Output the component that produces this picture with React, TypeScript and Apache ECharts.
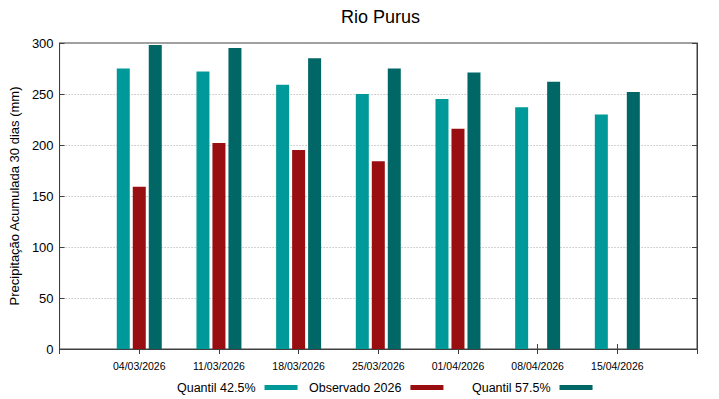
import React, { useEffect, useRef } from "react";
import * as echarts from "echarts";

const categories = ["04/03/2026", "11/03/2026", "18/03/2026", "25/03/2026", "01/04/2026", "08/04/2026", "15/04/2026"];
const quantil425 = [275, 272, 259, 250, 245, 237, 230];
const observado2026: (number | null)[] = [159, 202, 195, 184, 216, null, null];
const quantil575 = [298, 295, 285, 275, 271, 262, 252];
const yTicks = { min: 0, max: 300, interval: 50 };

const FONT = "Liberation Sans, Arial, sans-serif";

export default function App() {
  const ref = useRef<HTMLDivElement>(null);
  useEffect(() => {
    if (!ref.current) return;
    const chart = echarts.init(ref.current, null, { renderer: "svg" });
    const axisCats = ["", ...categories, " "];
    const pad = (a: (number | null)[]) => [null, ...a, null];
    const axisColor = "#404040";
    const legendBase = {
      top: 381,
      padding: 0,
      align: "right" as const,
      itemWidth: 33,
      itemHeight: 5,
      icon: "rect",
      textStyle: { fontSize: 12.5, color: "#000", fontFamily: FONT, padding: [0, 4, 0, 0] },
    };
    chart.setOption({
      animation: false,
      textStyle: { fontFamily: FONT },
      title: {
        text: "Rio Purus",
        left: 336,
        top: 3,
        textStyle: { fontSize: 18, fontWeight: "normal", color: "#000", fontFamily: FONT },
      },
      legend: [
        { ...legendBase, left: 177, data: ["Quantil 42.5%"] },
        { ...legendBase, left: 309, data: ["Observado 2026"] },
        { ...legendBase, left: 472, data: ["Quantil 57.5%"] },
      ],
      grid: {
        left: 58,
        right: 22,
        top: 43,
        bottom: 50,
        show: true,
        borderColor: axisColor,
        borderWidth: 1,
        containLabel: false,
      },
      xAxis: [
        {
          type: "category",
          data: axisCats,
          boundaryGap: false,
          axisLine: { show: true, lineStyle: { color: axisColor } },
          axisTick: { show: true, inside: true, length: 5, lineStyle: { color: axisColor } },
          axisLabel: { fontSize: 10.5, color: "#000", margin: 11, fontFamily: FONT, interval: 0 },
          splitLine: { show: false },
        },
        {
          type: "category",
          data: axisCats,
          boundaryGap: false,
          position: "top",
          axisLine: { show: true, lineStyle: { color: axisColor } },
          axisTick: { show: true, inside: true, length: 5, lineStyle: { color: axisColor } },
          axisLabel: { show: false },
          splitLine: { show: false },
        },
      ],
      yAxis: [
        {
          type: "value",
          ...yTicks,
          name: "Precipitação Acumulada 30 dias (mm)",
          nameLocation: "middle",
          nameGap: 33,
          nameTextStyle: { fontSize: 13, color: "#000", fontFamily: FONT },
          axisLine: { show: true, lineStyle: { color: axisColor } },
          axisTick: { show: true, inside: true, length: 5, lineStyle: { color: axisColor } },
          axisLabel: { fontSize: 13, color: "#000", margin: 6, fontFamily: FONT },
          splitLine: { show: true, lineStyle: { color: "#a8a8a8", type: [1, 2], width: 1 } },
        },
        {
          type: "value",
          ...yTicks,
          position: "right",
          axisLine: { show: true, lineStyle: { color: axisColor } },
          axisTick: { show: true, inside: true, length: 5, lineStyle: { color: axisColor } },
          axisLabel: { show: false },
          splitLine: { show: false },
        },
      ],
      series: [
        {
          name: "Quantil 42.5%",
          type: "bar",
          data: pad(quantil425),
          barWidth: 13,
          barGap: "23%",
          itemStyle: { color: "#009999" },
        },
        {
          name: "Observado 2026",
          type: "bar",
          data: pad(observado2026),
          barWidth: 13,
          barGap: "23%",
          itemStyle: { color: "#990e10" },
        },
        {
          name: "Quantil 57.5%",
          type: "bar",
          data: pad(quantil575),
          barWidth: 13,
          barGap: "23%",
          itemStyle: { color: "#006666" },
        },
      ],
    });
    return () => chart.dispose();
  }, []);
  return (
    <div
      ref={ref}
      style={{ position: "fixed", left: 0, top: 0, width: 719, height: 399, background: "#fff" }}
    />
  );
}
